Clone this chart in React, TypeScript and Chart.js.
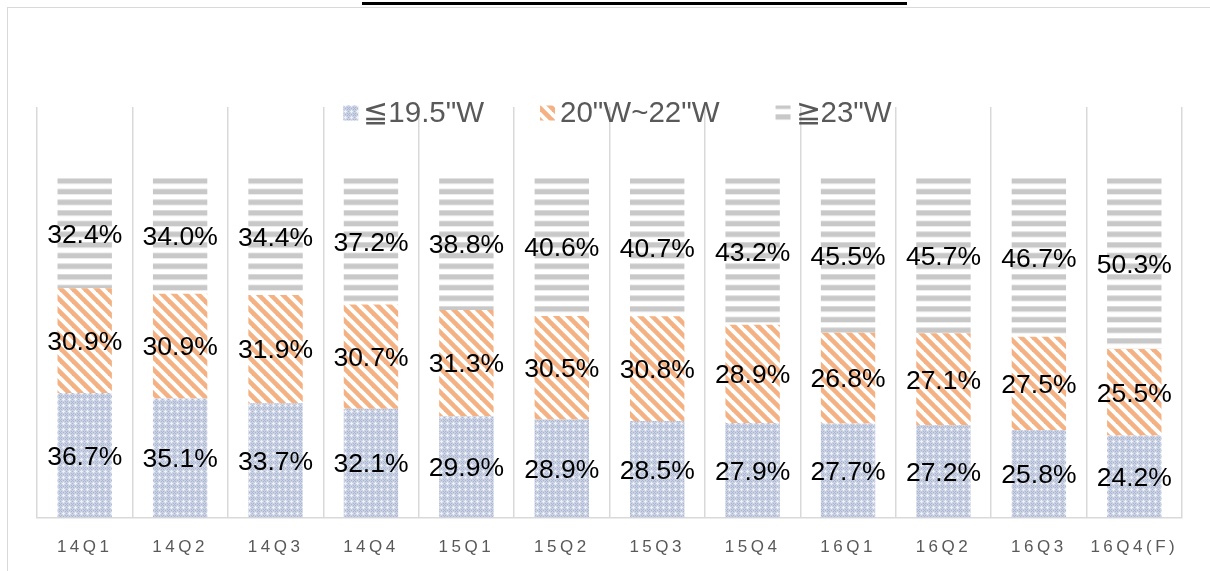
import React, { useEffect, useRef } from 'react';
import { Chart, registerables } from 'chart.js';

Chart.register(...registerables);

const categories = ['14Q1', '14Q2', '14Q3', '14Q4', '15Q1', '15Q2', '15Q3', '15Q4', '16Q1', '16Q2', '16Q3', '16Q4(F)'];
const seriesNames = ['≦19.5"W', '20"W~22"W', '≧23"W'];
const smallShare = [36.7, 35.1, 33.7, 32.1, 29.9, 28.9, 28.5, 27.9, 27.7, 27.2, 25.8, 24.2];
const midShare = [30.9, 30.9, 31.9, 30.7, 31.3, 30.5, 30.8, 28.9, 26.8, 27.1, 27.5, 25.5];
const largeShare = [32.4, 34.0, 34.4, 37.2, 38.8, 40.6, 40.7, 43.2, 45.5, 45.7, 46.7, 50.3];
const yMax = 121;

function makeDotPattern(ctx: CanvasRenderingContext2D) {
  const c = document.createElement('canvas');
  c.width = 6;
  c.height = 6;
  const g = c.getContext('2d')!;
  g.fillStyle = '#c9d1e2';
  g.fillRect(0, 0, 6, 6);
  g.fillStyle = '#a9b8d2';
  g.fillRect(0, 0, 1, 1);
  g.fillRect(1, 1, 1, 1);
  g.fillRect(5, 5, 1, 1);
  g.fillRect(5, 1, 1, 1);
  g.fillRect(1, 5, 1, 1);
  g.fillRect(3, 0, 1, 1);
  g.fillRect(0, 3, 1, 1);
  g.fillStyle = '#eef1f7';
  g.fillRect(2, 3, 3, 1);
  g.fillRect(3, 2, 1, 3);
  return ctx.createPattern(c, 'repeat')!;
}

function makeDiagPattern(ctx: CanvasRenderingContext2D) {
  const s = 12;
  const c = document.createElement('canvas');
  c.width = s;
  c.height = s;
  const g = c.getContext('2d')!;
  g.fillStyle = '#ffffff';
  g.fillRect(0, 0, s, s);
  g.strokeStyle = '#f4b183';
  g.lineWidth = 4.6;
  for (let k = -2; k <= 2; k++) {
    const a = k * s;
    g.beginPath();
    g.moveTo(a - s, -s);
    g.lineTo(a + 2 * s, 2 * s);
    g.stroke();
  }
  return ctx.createPattern(c, 'repeat')!;
}

function makeHStripePattern(ctx: CanvasRenderingContext2D) {
  const c = document.createElement('canvas');
  c.width = 4;
  c.height = 32;
  const g = c.getContext('2d')!;
  g.fillStyle = '#ffffff';
  g.fillRect(0, 0, 4, 32);
  g.fillStyle = '#c8c8c8';
  for (let i = 0; i < 3; i++) {
    g.fillRect(0, i * (32 / 3), 4, 32 / 6);
  }
  return ctx.createPattern(c, 'repeat')!;
}

export default function App() {
  const canvasRef = useRef<HTMLCanvasElement | null>(null);

  useEffect(() => {
    const canvas = canvasRef.current!;
    const ctx = canvas.getContext('2d')!;
    const dotPat = makeDotPattern(ctx);
    const diagPat = makeDiagPattern(ctx);
    const stripePat = makeHStripePattern(ctx);
    const fills = [dotPat, diagPat, stripePat];

    const tickSpacing = {
      id: 'tickSpacing',
      beforeDraw(chart: any) {
        chart.ctx.letterSpacing = '3.5px';
        const top = chart.scales.y.getPixelForValue(100);
        stripePat.setTransform(new DOMMatrix().translate(0, top));
      },
      beforeDatasetsDraw(chart: any) {
        chart.ctx.letterSpacing = '0px';
      },
    };

    const valueLabels = {
      id: 'valueLabels',
      afterDatasetsDraw(chart: any) {
        const c = chart.ctx;
        c.save();
        c.font = '26.5px "Liberation Sans", Arial, sans-serif';
        c.fillStyle = '#000000';
        c.textAlign = 'center';
        c.textBaseline = 'middle';
        chart.data.datasets.forEach((ds: any, di: number) => {
          const meta = chart.getDatasetMeta(di);
          meta.data.forEach((bar: any, i: number) => {
            const y = (bar.y + bar.base) / 2 + 2;
            c.fillText(Number(ds.data[i]).toFixed(1) + '%', bar.x, y);
          });
        });
        c.restore();
      },
    };

    const customLegend = {
      id: 'customLegend',
      afterDraw(chart: any) {
        const c = chart.ctx;
        c.save();
        c.font = '29.5px "Liberation Sans", Arial, sans-serif';
        c.textBaseline = 'middle';
        c.textAlign = 'left';
        const box = 15;
        const gapBT = 5;
        const gapItems = 56;
        const widths = seriesNames.map((n) => c.measureText(n).width);
        const total = widths.reduce((a, w) => a + box + gapBT + w, 0) + gapItems * (seriesNames.length - 1);
        const cx = (chart.chartArea.left + chart.chartArea.right) / 2 + 8;
        const cy = 113;
        let x = cx - total / 2;
        seriesNames.forEach((n, i) => {
          c.fillStyle = fills[i];
          c.fillRect(x, cy - box / 2, box, box);
          c.fillStyle = '#595959';
          c.fillText(n, x + box + gapBT, cy + 1);
          x += box + gapBT + widths[i] + gapItems;
        });
        c.restore();
      },
    };

    const chart = new Chart(canvas, {
      type: 'bar',
      data: {
        labels: categories,
        datasets: [
          { label: seriesNames[0], data: smallShare, backgroundColor: dotPat, borderWidth: 0, barPercentage: 0.57, categoryPercentage: 1 },
          { label: seriesNames[1], data: midShare, backgroundColor: diagPat, borderWidth: 0, barPercentage: 0.57, categoryPercentage: 1 },
          { label: seriesNames[2], data: largeShare, backgroundColor: stripePat, borderWidth: 0, barPercentage: 0.57, categoryPercentage: 1 },
        ],
      },
      options: {
        responsive: false,
        animation: false,
        devicePixelRatio: 1,
        layout: { padding: { left: 37, right: 28, top: 107, bottom: 22 } },
        plugins: {
          legend: { display: false },
          tooltip: { enabled: false },
          title: { display: false },
        },
        scales: {
          x: {
            stacked: true,
            offset: true,
            grid: { offset: true, color: '#d9d9d9', lineWidth: 1.5, drawTicks: false },
            border: { color: '#d9d9d9', width: 1.5 },
            ticks: {
              color: '#595959',
              font: { family: '"Liberation Sans", Arial, sans-serif', size: 17 },
              padding: 20,
              autoSkip: false,
              maxRotation: 0,
            },
          },
          y: { stacked: true, min: 0, max: yMax, display: false },
        },
      },
      plugins: [tickSpacing, valueLabels, customLegend],
    });
    return () => chart.destroy();
  }, []);

  return (
    <div style={{ position: 'fixed', left: 0, top: 0, width: 1210, height: 571, overflow: 'hidden', background: '#ffffff' }}>
      <div style={{ position: 'absolute', left: 362, top: 2, width: 545, height: 3, background: '#000000' }} />
      <div style={{ position: 'absolute', left: 7, top: 7, width: 1400, height: 800, border: '1px solid #d9d9d9', boxSizing: 'border-box' }} />
      <canvas ref={canvasRef} width={1210} height={600} style={{ position: 'absolute', left: 0, top: 0 }} />
    </div>
  );
}
